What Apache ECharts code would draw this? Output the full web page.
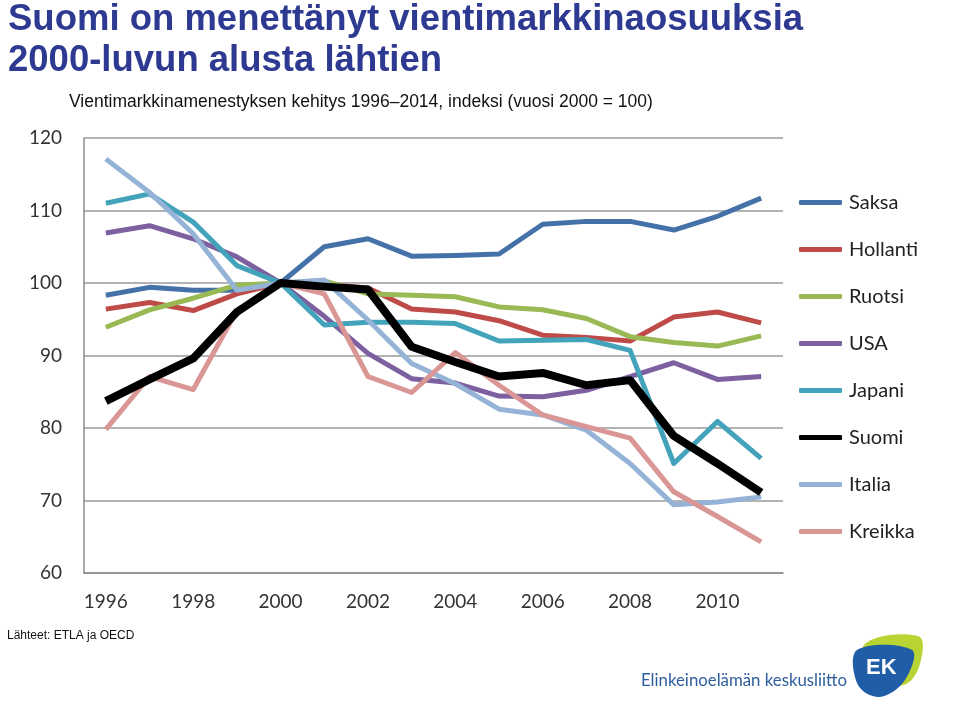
<!DOCTYPE html>
<html><head><meta charset="utf-8">
<script src="https://cdn.jsdelivr.net/npm/echarts@6/dist/echarts.min.js"></script>
<style>html,body{margin:0;padding:0;background:#fff}#c{width:960px;height:711px}</style>
</head><body><div id="c"></div>
<script>
const years = ['1996','1997','1998','1999','2000','2001','2002','2003','2004','2005','2006','2007','2008','2009','2010','2011'];
const seriesNames = ['Saksa','Hollanti','Ruotsi','USA','Japani','Suomi','Italia','Kreikka'];
const saksa   = [98.3, 99.4, 99.0, 99.0, 100, 105.0, 106.1, 103.7, 103.8, 104.0, 108.1, 108.5, 108.5, 107.3, 109.2, 111.7];
const hollanti= [96.4, 97.3, 96.2, 98.5, 100, 99.8, 99.3, 96.4, 96.0, 94.8, 92.8, 92.5, 92.0, 95.3, 96.0, 94.5];
const ruotsi  = [93.9, 96.3, 97.9, 99.7, 100, 100.3, 98.5, 98.3, 98.1, 96.7, 96.3, 95.1, 92.6, 91.8, 91.3, 92.7];
const usa     = [106.9, 107.9, 106.1, 103.6, 100, 95.4, 90.3, 86.8, 86.2, 84.4, 84.3, 85.2, 87.1, 89.0, 86.7, 87.1];
const japani  = [111.0, 112.3, 108.4, 102.4, 100, 94.2, 94.6, 94.6, 94.4, 92.0, 92.1, 92.2, 90.7, 75.1, 80.9, 75.8];
const suomi   = [83.7, 86.7, 89.6, 96.0, 100, 99.5, 99.1, 91.2, 89.1, 87.1, 87.6, 85.9, 86.6, 78.9, 75.1, 71.1];
const italia  = [117.1, 112.5, 106.8, 99.0, 100, 100.4, 94.9, 88.9, 86.1, 82.6, 81.8, 79.7, 75.1, 69.4, 69.8, 70.5];
const kreikka = [79.8, 87.1, 85.3, 96.2, 100, 98.5, 87.1, 84.9, 90.4, 85.9, 81.8, 80.2, 78.6, 71.2, 67.8, 64.3];
const yTicks = [60, 70, 80, 90, 100, 110, 120];

const colors = ['#4472A8','#BE4B48','#98B954','#7D60A0','#43A3BA','#000000','#95B3D7','#D99694'];
const values = [saksa, hollanti, ruotsi, usa, japani, suomi, italia, kreikka];

const chart = echarts.init(document.getElementById('c'));
const font = 'Lato, "Open Sans", sans-serif';
chart.setOption({
  animation: false,
  backgroundColor: '#ffffff',
  title: [
    {text: 'Suomi on menettänyt vientimarkkinaosuuksia\n2000-luvun alusta lähtien', left: 3, top: -6,
     textStyle: {fontFamily: '"Liberation Sans", Arial, sans-serif', fontWeight: 'bold', fontSize: 36.5, lineHeight: 41, color: '#2E3A91'}},
    {text: 'Vientimarkkinamenestyksen kehitys 1996–2014, indeksi (vuosi 2000 = 100)', left: 64, top: 88,
     textStyle: {fontFamily: '"Liberation Sans", Arial, sans-serif', fontWeight: 'normal', fontSize: 17.5, color: '#111'}},
    {text: 'Lähteet: ETLA ja OECD', left: 2, top: 625,
     textStyle: {fontFamily: '"Liberation Sans", Arial, sans-serif', fontWeight: 'normal', fontSize: 12, color: '#111'}},
    {text: 'Elinkeinoelämän keskusliitto', left: 636, top: 667,
     textStyle: {fontFamily: font, fontWeight: 'normal', fontSize: 16.8, color: '#2D5E9E'}}
  ],
  graphic: [
    {type: 'polygon', shape: {points: [[864,645],[918,636],[921,660],[906,684],[880,680]], smooth: 0.4}, style: {fill: '#B7D433'}},
    {type: 'polygon', shape: {points: [[857,650],[912,650],[905,680],[880,697],[858,685]], smooth: 0.35}, style: {fill: '#1F5DA6'}},
    {type: 'text', left: 866, top: 657, style: {text: 'EK', fill: '#ffffff', font: 'bold 22px "Liberation Sans", Arial, sans-serif'}}
  ],
  legend: {
    orient: 'vertical', left: 799, top: 192, padding: 0,
    icon: 'roundRect', itemWidth: 43, itemHeight: 5, itemGap: 26,
    data: seriesNames,
    textStyle: {fontFamily: font, fontSize: 20, color: '#222', lineHeight: 21, padding: [0,0,0,2]}
  },
  grid: {left: 84, right: 177, top: 138, bottom: 138, containLabel: false},
  xAxis: {
    type: 'category', data: years, boundaryGap: true,
    axisLine: {lineStyle: {color: '#8c8c8c', width: 1.5}},
    axisTick: {inside: true, length: 6, lineStyle: {color: '#8c8c8c'}},
    axisLabel: {interval: 1, margin: 19, fontFamily: font, fontSize: 19, color: '#333'}
  },
  yAxis: {
    type: 'value', min: 60, max: 120, interval: 10,
    axisLine: {show: true, lineStyle: {color: '#8c8c8c', width: 1.5}},
    axisTick: {show: false},
    splitLine: {lineStyle: {color: '#9a9a9a', width: 1.5}},
    axisLabel: {margin: 22, fontFamily: font, fontSize: 19, color: '#333',
      formatter: v => yTicks.includes(v) ? String(v) : ''}
  },
  series: seriesNames.map((n, i) => ({
    name: n, type: 'line', data: values[i], symbol: 'none',
    z: n === 'Suomi' ? 3 : 2,
    itemStyle: {color: colors[i]},
    lineStyle: {color: colors[i], width: n === 'Suomi' ? 8 : 5, join: 'round'}
  }))
});
</script></body></html>
